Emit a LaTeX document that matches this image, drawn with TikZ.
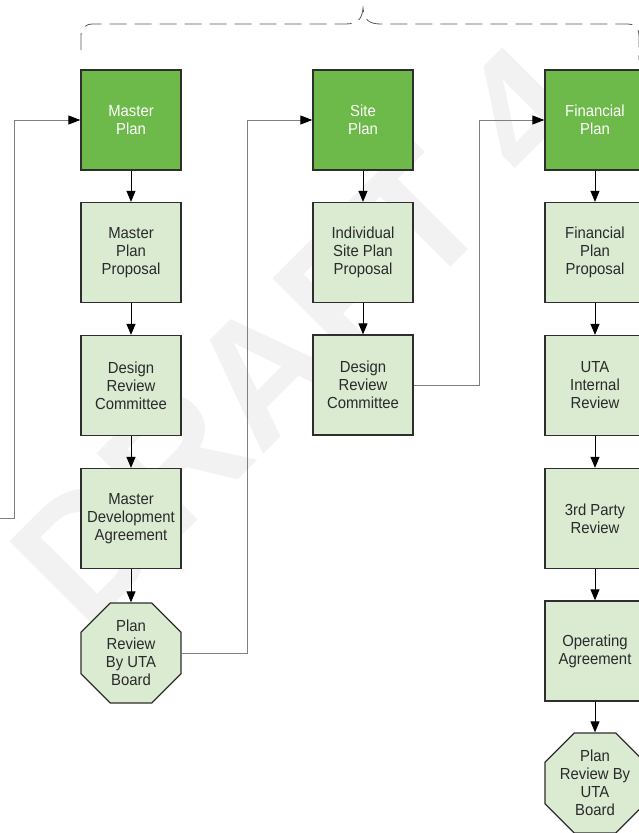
\documentclass[tikz,border=0pt]{standalone}
\usepackage{fontspec}
\setmainfont{Liberation Sans}[FakeStretch=0.93]
\newfontfamily\wmfont{Liberation Sans}
\usetikzlibrary{arrows.meta,shapes.geometric}
\definecolor{dkgreen}{HTML}{6DBA4A}
\definecolor{ltgreen}{HTML}{DAEBD2}
\definecolor{boxline}{HTML}{2E2E2E}
\definecolor{conn}{HTML}{808080}
\definecolor{wm}{HTML}{F2F2F2}
\definecolor{txt}{HTML}{2A2A2A}
\begin{document}
\begin{tikzpicture}[x=1pt,y=-1pt,
 box/.style={draw=boxline, line width=1.3pt, minimum width=100pt, minimum height=100pt, inner sep=0pt, align=center, font=\fontsize{16}{18}\selectfont},
 mainbox/.style={box, fill=dkgreen, text=white},
 subbox/.style={box, fill=ltgreen, text=txt},
 octa/.style={draw=boxline, line width=1.3pt, fill=ltgreen, regular polygon, regular polygon sides=8, minimum size=108.24pt, inner sep=0pt},
 octatext/.style={align=center, text=txt, font=\fontsize{16}{18}\selectfont, inner sep=0pt},
 flow/.style={draw=black, line width=1pt, -{Triangle[length=11pt,width=9pt]}},
 link/.style={draw=conn, line width=1pt, -{Triangle[length=12pt,width=9pt,color=black]}},
 bracepath/.style={draw=black!65, line width=0.8pt, dash pattern=on 17pt off 8pt},
 watermark/.style={text=wm, rotate=45, font=\wmfont\bfseries\fontsize{172}{172}\selectfont, inner sep=0pt}
]
\useasboundingbox (0,0) rectangle (639,833);
\clip (0,0) rectangle (639,833);
\fill[white] (0,0) rectangle (639,833);

% watermark
\node[watermark] (wmark) at (300,335) {DRAFT 4};

% brace
\draw[bracepath] (81,50) -- (81,36) .. controls (81,28) and (85,24) .. (93,24) -- (345,24) .. controls (357,24) and (362,20) .. (363,8) .. controls (364,20) and (369,24) .. (381,24) -- (627,24) .. controls (635,24) and (639,28) .. (639,36) -- (639,60);

% column 1
\node[mainbox] (mp) at (131,120) {Master\\Plan};
\node[subbox] (mpp) at (131,252.5) {Master\\Plan\\Proposal};
\node[subbox] (drc1) at (131,385.5) {Design\\Review\\Committee};
\node[subbox] (mda) at (131,518.5) {Master\\Development\\Agreement};
\node[octa] (o1) at (131,653) {};
\node[octatext] (o1t) at (o1.center) {Plan\\Review\\By UTA\\Board};

% column 2
\node[mainbox] (sp) at (363,120) {Site\\Plan};
\node[subbox] (isp) at (363,252.5) {Individual\\Site Plan\\Proposal};
\node[subbox] (drc2) at (363,385) {Design\\Review\\Committee};

% column 3
\node[mainbox] (fp) at (595,120) {Financial\\Plan};
\node[subbox] (fpp) at (595,252.5) {Financial\\Plan\\Proposal};
\node[subbox] (uta) at (595,385.5) {UTA\\Internal\\Review};
\node[subbox] (tpr) at (595,518.5) {3rd Party\\Review};
\node[subbox] (opa) at (595,651) {Operating\\Agreement};
\node[octa] (o2) at (595,783) {};
\node[octatext] (o2t) at (o2.center) {Plan\\Review By\\UTA\\Board};

% vertical flows
\draw[flow] (mp) -- (mpp);
\draw[flow] (mpp) -- (drc1);
\draw[flow] (drc1) -- (mda);
\draw[flow] (mda) -- (o1);
\draw[flow] (sp) -- (isp);
\draw[flow] (isp) -- (drc2);
\draw[flow] (fp) -- (fpp);
\draw[flow] (fpp) -- (uta);
\draw[flow] (uta) -- (tpr);
\draw[flow] (tpr) -- (opa);
\draw[flow] (opa) -- (o2);

% links between columns
\coordinate (entry) at (0,518);
\draw[link] (entry) -- ++(14,0) |- (mp.west);
\draw[link] (o1.east) -- ++(66,0) |- (sp.west);
\draw[link] (drc2.east) -- ++(66,0) |- (fp.west);
\end{tikzpicture}
\end{document}
